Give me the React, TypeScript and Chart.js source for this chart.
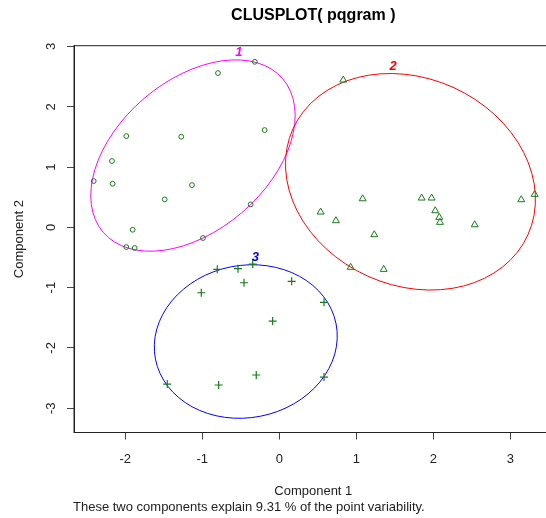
import React, { useEffect, useRef } from "react";
import { Chart, registerables } from "chart.js";

Chart.register(...registerables);

// ---- data ----
const cluster1X = [-0.317, -0.796, -0.19, -1.987, -1.273, -2.173, -2.41, -2.164, -1.134, -1.488, -0.371, -1.904, -0.991, -1.987, -1.878];
const cluster1Y = [2.746, 2.559, 1.614, 1.514, 1.503, 1.1, 0.768, 0.723, 0.701, 0.464, 0.381, -0.04, -0.177, -0.327, -0.343];

const cluster2X = [0.831, 1.083, 0.537, 0.736, 1.234, 1.849, 1.979, 2.026, 2.078, 2.087, 2.538, 3.143, 3.317, 0.927, 1.356];
const cluster2Y = [2.443, 0.474, 0.254, 0.11, -0.122, 0.486, 0.486, 0.275, 0.166, 0.083, 0.043, 0.458, 0.547, -0.663, -0.697];

const cluster3X = [-0.805, -0.536, -0.345, -0.458, -1.013, 0.161, 0.581, -0.086, -1.455, -0.787, -0.299, 0.581];
const cluster3Y = [-0.697, -0.686, -0.609, -0.919, -1.085, -0.896, -1.244, -1.554, -2.599, -2.615, -2.449, -2.483];

// spanning ellipses: centre and covariance (data units)
const clusterLabels = ["1", "2", "3"];
const ellipseCx = [-1.121, 1.704, -0.435];
const ellipseCy = [1.191, 0.756, -1.894];
const ellipseVarX = [1.762, 2.635, 1.412];
const ellipseVarY = [2.519, 3.226, 1.622];
const ellipseCov = [0.883, -0.474, 0.108];

const xTickValues = [-2, -1, 0, 1, 2, 3];
const yTickValues = [-3, -2, -1, 0, 1, 2, 3];

const titleText = "CLUSPLOT( pqgram )";
const xTitle = "Component 1";
const yTitle = "Component 2";
const subText = "These two components explain 9.31 % of the point variability.";

// ---- styles ----
const pointColor = "#1a7a1a";
const ellipseColors = ["#ff00ff", "#ff0000", "#0000ff"];
const FONT = "'Liberation Sans', Arial, sans-serif";
const CANVAS_W = 570;
const CANVAS_H = 518;

function toPoints(xs: number[], ys: number[]) {
  return xs.map((x, i) => ({ x, y: ys[i] }));
}

const overlayPlugin = {
  id: "overlay",
  beforeDatasetsDraw(chart: any) {
    const { ctx, scales } = chart;
    const xs = scales.x;
    const ys = scales.y;
    const sx = xs.getPixelForValue(1) - xs.getPixelForValue(0);
    const sy = ys.getPixelForValue(1) - ys.getPixelForValue(0);
    ctx.save();
    for (let i = 0; i < ellipseCx.length; i++) {
      const cx = xs.getPixelForValue(ellipseCx[i]);
      const cy = ys.getPixelForValue(ellipseCy[i]);
      const a = sx * sx * ellipseVarX[i];
      const c = sy * sy * ellipseVarY[i];
      const b = sx * sy * ellipseCov[i];
      const mid = (a + c) / 2;
      const d = Math.sqrt(((a - c) / 2) ** 2 + b * b);
      const l1 = mid + d;
      const l2 = mid - d;
      const theta = 0.5 * Math.atan2(2 * b, a - c);
      ctx.beginPath();
      ctx.ellipse(cx, cy, Math.sqrt(l1), Math.sqrt(l2), theta, 0, Math.PI * 2);
      ctx.strokeStyle = ellipseColors[i];
      ctx.lineWidth = 1;
      ctx.stroke();
      // cluster number above the ellipse top
      const topX = cx - b / Math.sqrt(c);
      const topY = cy - Math.sqrt(c);
      ctx.fillStyle = ellipseColors[i];
      ctx.font = `italic bold 13px ${FONT}`;
      ctx.textAlign = "center";
      ctx.textBaseline = "middle";
      ctx.fillText(clusterLabels[i], topX + 3, topY - 7);
    }
    ctx.restore();
  },
  afterDraw(chart: any) {
    const { ctx, chartArea, scales } = chart;
    ctx.save();
    // box
    ctx.strokeStyle = "#222";
    ctx.lineWidth = 1;
    ctx.strokeRect(chartArea.left, chartArea.top, chartArea.right - chartArea.left, chartArea.bottom - chartArea.top);
    const cxMid = (chartArea.left + chartArea.right) / 2;
    // title
    ctx.fillStyle = "#000";
    ctx.font = `bold 16px ${FONT}`;
    ctx.textAlign = "center";
    ctx.textBaseline = "middle";
    ctx.fillText(titleText, cxMid, 16);
    // x title
    ctx.font = `13px ${FONT}`;
    ctx.fillStyle = "#222";
    ctx.fillText(xTitle, cxMid, 491);
    // sub
    ctx.textAlign = "left";
    ctx.fillText(subText, chartArea.left - 1, 507);
    // y tick labels (rotated)
    const ys = scales.y;
    ctx.textAlign = "center";
    ys.ticks.forEach((t: any) => {
      const py = ys.getPixelForValue(t.value);
      ctx.save();
      ctx.translate(51, py);
      ctx.rotate(-Math.PI / 2);
      ctx.fillText(String(t.value), 0, 0);
      ctx.restore();
    });
    // y title
    ctx.save();
    ctx.translate(19, (chartArea.top + chartArea.bottom) / 2);
    ctx.rotate(-Math.PI / 2);
    ctx.fillText(yTitle, 0, 0);
    ctx.restore();
    ctx.restore();
  },
};

export default function App() {
  const canvasRef = useRef<HTMLCanvasElement | null>(null);

  useEffect(() => {
    const canvas = canvasRef.current;
    if (!canvas) return;
    const chart = new Chart(canvas, {
      type: "scatter",
      data: {
        datasets: [
          {
            data: toPoints(cluster1X, cluster1Y),
            pointStyle: "circle",
            pointRadius: 2.4,
            borderColor: pointColor,
            backgroundColor: "transparent",
            borderWidth: 1,
          },
          {
            data: toPoints(cluster2X, cluster2Y),
            pointStyle: "triangle",
            pointRadius: 4,
            borderColor: pointColor,
            backgroundColor: "transparent",
            borderWidth: 1,
          },
          {
            data: toPoints(cluster3X, cluster3Y),
            pointStyle: "cross",
            pointRadius: 4,
            borderColor: pointColor,
            backgroundColor: "transparent",
            borderWidth: 1.2,
          },
        ],
      },
      options: {
        responsive: false,
        animation: false,
        events: [],
        layout: { padding: { top: 45.7, right: CANVAS_W - 552.6, left: 0, bottom: 0 } },
        plugins: {
          legend: { display: false },
          tooltip: { enabled: false },
          title: { display: false },
        },
        scales: {
          x: {
            type: "linear",
            min: -2.666,
            max: 3.55,
            afterFit: (s: any) => {
              s.height = 85.5;
            },
            afterBuildTicks: (s: any) => {
              s.ticks = xTickValues.map((v) => ({ value: v }));
            },
            ticks: {
              includeBounds: false,
              stepSize: 1,
              padding: 12,
              color: "#222",
              font: { family: FONT, size: 13 },
              maxRotation: 0,
            },
            grid: { drawOnChartArea: false, drawTicks: true, tickLength: 7, color: "#444" },
            border: { display: true, color: "#222" },
          },
          y: {
            type: "linear",
            min: -3.403,
            max: 3.013,
            afterFit: (s: any) => {
              s.width = 74;
            },
            afterBuildTicks: (s: any) => {
              s.ticks = yTickValues.map((v) => ({ value: v }));
            },
            ticks: {
              display: false,
              includeBounds: false,
              stepSize: 1,
            },
            grid: { drawOnChartArea: false, drawTicks: true, tickLength: 7, color: "#444" },
            border: { display: true, color: "#222" },
          },
        },
      },
      plugins: [overlayPlugin],
    } as any);
    return () => chart.destroy();
  }, []);

  return (
    <div style={{ position: "absolute", left: 0, top: 0, width: 546, height: 518, overflow: "hidden", background: "#fff" }}>
      <canvas ref={canvasRef} width={CANVAS_W} height={CANVAS_H} style={{ width: CANVAS_W, height: CANVAS_H, display: "block" }} />
    </div>
  );
}
